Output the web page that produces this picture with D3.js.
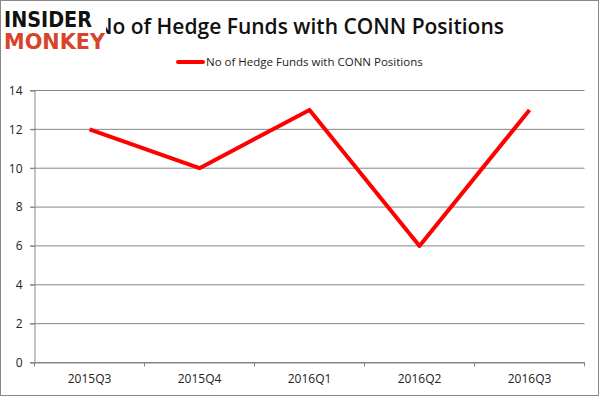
<!DOCTYPE html>
<html>
<head>
<meta charset="utf-8">
<script src="https://cdn.jsdelivr.net/npm/d3@7"></script>
<style>
  body { margin: 0; background: #fff; }
  text { font-family: "Open Sans", "DejaVu Sans", sans-serif; }
</style>
</head>
<body>
<script>
var w = 600;
var h = 397;

var quarters = ["2015Q3", "2015Q4", "2016Q1", "2016Q2", "2016Q3"];
var funds = [12, 10, 13, 6, 13];
var yTicks = [0, 2, 4, 6, 8, 10, 12, 14];
var seriesName = "No of Hedge Funds with CONN Positions";

var svg = d3.select("body")
  .append("svg")
  .attr("width", w)
  .attr("height", h);

// outer frame
svg.append("rect")
  .attr("x", 0.5).attr("y", 0.5)
  .attr("width", w - 2).attr("height", h - 2)
  .attr("fill", "#fff")
  .attr("stroke", "#888");

var x = d3.scaleBand().domain(quarters).range([34.5, 584.5]);
var y = d3.scaleLinear().domain([0, 14]).range([362.5, 90.5]);

// gridlines
svg.selectAll(".grid")
  .data(yTicks)
  .enter()
  .append("line")
  .attr("x1", 30)
  .attr("x2", 584.5)
  .attr("y1", function(d) { return y(d); })
  .attr("y2", function(d) { return y(d); })
  .attr("stroke", "#868686")
  .attr("stroke-width", 1);

// y axis
var yAxis = svg.append("g")
  .attr("transform", "translate(34.5,0)")
  .call(d3.axisLeft(y).tickValues(yTicks).tickSize(4).tickPadding(8));
yAxis.select(".domain").attr("stroke", "#868686");
yAxis.selectAll(".tick line").attr("stroke", "#868686");
yAxis.selectAll("text").attr("font-size", 12).attr("fill", "#222")
  .style("font-family", "'Open Sans', sans-serif");

// x axis
var xAxis = svg.append("g")
  .attr("transform", "translate(0," + y(0) + ")")
  .call(d3.axisBottom(x).tickSize(0).tickPadding(12));
xAxis.select(".domain").attr("stroke", "#868686");
xAxis.selectAll("text").attr("font-size", 12).attr("fill", "#222")
  .style("font-family", "'Open Sans', sans-serif");
xAxis.selectAll(".cat-tick")
  .data(quarters.concat(["end"]))
  .enter()
  .append("line")
  .attr("x1", function(d, i) { return 34.5 + i * x.bandwidth(); })
  .attr("x2", function(d, i) { return 34.5 + i * x.bandwidth(); })
  .attr("y1", 0).attr("y2", 4)
  .attr("stroke", "#868686");

// series line
var line = d3.line()
  .x(function(d, i) { return x(quarters[i]) + x.bandwidth() / 2; })
  .y(function(d) { return y(d); });

svg.append("path")
  .datum(funds)
  .attr("d", line)
  .attr("fill", "none")
  .attr("stroke", "#ff0000")
  .attr("stroke-width", 4)
  .attr("stroke-linejoin", "round");

// title
svg.append("text")
  .attr("x", 300)
  .attr("y", 34)
  .attr("text-anchor", "middle")
  .attr("font-size", 21)
  .attr("font-weight", "600")
  .attr("fill", "#111")
  .text(seriesName);

// legend
svg.append("line")
  .attr("x1", 178).attr("x2", 203)
  .attr("y1", 62).attr("y2", 62)
  .attr("stroke", "#ff0000")
  .attr("stroke-width", 4)
  .attr("stroke-linecap", "round");
svg.append("text")
  .attr("x", 206)
  .attr("y", 66)
  .attr("font-size", 11.5)
  .attr("fill", "#222")
  .text(seriesName);

// logo
var logo = svg.append("g");
logo.append("rect")
  .attr("x", 2).attr("y", 8).attr("width", 104).attr("height", 46)
  .attr("fill", "#fff");
logo.append("text")
  .attr("x", 4).attr("y", 27)
  .attr("font-size", 21)
  .attr("font-weight", "900")
  .attr("fill", "#111")
  .attr("textLength", 88)
  .attr("lengthAdjust", "spacingAndGlyphs")
  .style("font-family", "'DejaVu Sans', sans-serif")
  .text("INSIDER");
logo.append("text")
  .attr("x", 4).attr("y", 49)
  .attr("font-size", 21)
  .attr("font-weight", "900")
  .attr("fill", "#d8432a")
  .attr("textLength", 101)
  .attr("lengthAdjust", "spacingAndGlyphs")
  .style("font-family", "'DejaVu Sans', sans-serif")
  .text("MONKEY");
</script>
</body>
</html>
